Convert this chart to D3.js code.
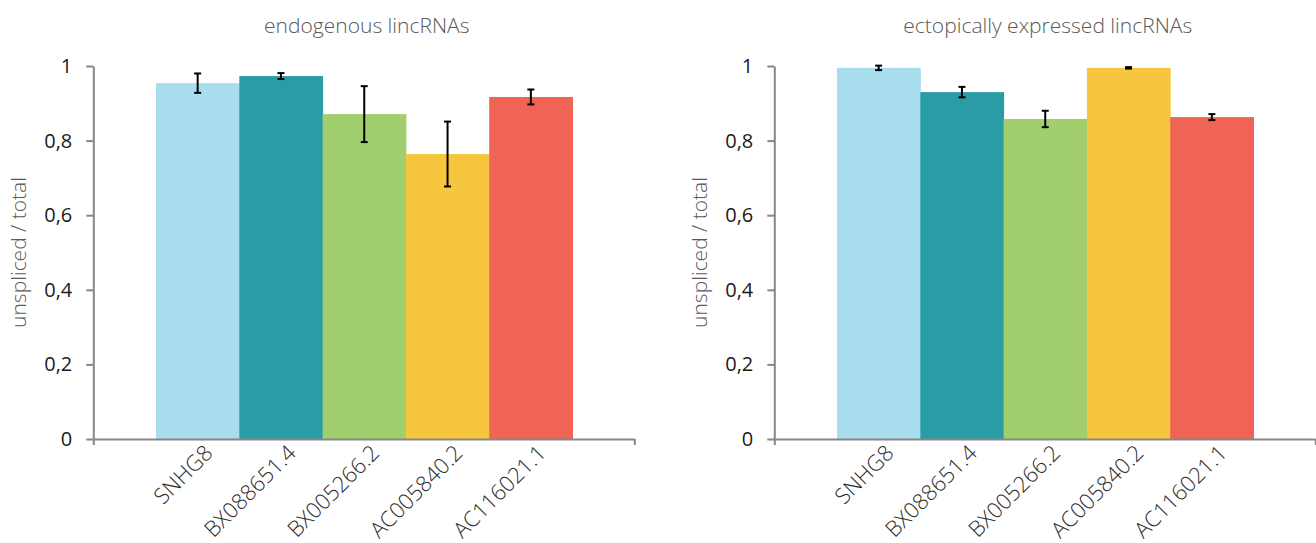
<!DOCTYPE html>
<html lang="en">
<head>
    <meta charset="UTF-8">
    <title>unspliced / total</title>
    <script src="https://d3js.org/d3.v7.js"></script>
</head>
<body style="margin: 0; background: white">
<script>
    const genes = ["SNHG8", "BX088651.4", "BX005266.2", "AC005840.2", "AC116021.1"];
    const barColors = ["#a8ddee", "#2a9ca6", "#a2cf6e", "#f5c63e", "#f06456"];
    const endoValues = [0.954, 0.973, 0.871, 0.764, 0.917];
    const endoErrors = [0.026, 0.008, 0.075, 0.087, 0.020];
    const ectoValues = [0.995, 0.930, 0.858, 0.995, 0.863];
    const ectoErrors = [0.006, 0.014, 0.022, 0.002, 0.008];
    const yTicks = [0, 0.2, 0.4, 0.6, 0.8, 1];
    const titles = ["endogenous lincRNAs", "ectopically expressed lincRNAs"];
    const yTitle = "unspliced / total";

    const width = 1316, height = 543,
        axisLen = 541, barsInset = 62.7, barsSpan = 416.5;
    const font = "'Open Sans', sans-serif";

    const svg = d3.select("body")
        .append("svg")
        .attr("width", width)
        .attr("height", height);

    const y = d3.scaleLinear().domain([0, 1]).range([439, 66]);

    function drawPanel(x0, title, values, errors) {
        const g = svg.append("g");
        const data = genes.map((name, i) => ({name: name, value: values[i], err: errors[i], color: barColors[i]}));

        const x = d3.scaleBand()
            .domain(genes)
            .range([x0 + barsInset, x0 + barsInset + barsSpan])
            .padding(0);

        // bars
        g.selectAll("rect")
            .data(data)
            .join("rect")
            .attr("x", d => x(d.name))
            .attr("width", x.bandwidth() + 0.5)
            .attr("y", d => y(d.value))
            .attr("height", d => y(0) - y(d.value))
            .attr("fill", d => d.color);

        // y axis
        const yAxis = g.append("g")
            .attr("transform", `translate(${x0},0)`)
            .call(d3.axisLeft(y)
                .tickValues(yTicks)
                .tickSize(7)
                .tickSizeOuter(0)
                .tickPadding(14)
                .tickFormat(d => String(d).replace(".", ",")));
        yAxis.select(".domain").attr("stroke", "#878787").attr("stroke-width", 2);
        yAxis.selectAll(".tick line").attr("stroke", "#878787").attr("stroke-width", 2);
        yAxis.selectAll(".tick text")
            .attr("fill", "#1a1a1a")
            .style("font-family", font)
            .style("font-size", "20px");

        // x axis, one category, ticks only at the ends
        const xLine = d3.scaleLinear().domain([0, 1]).range([x0, x0 + axisLen]);
        const xAxis = g.append("g")
            .attr("transform", `translate(0,${y(0)})`)
            .call(d3.axisBottom(xLine).tickValues([0, 1]).tickSize(6).tickSizeOuter(0).tickFormat(""));
        xAxis.select(".domain").attr("stroke", "#878787").attr("stroke-width", 2);
        xAxis.selectAll(".tick line").attr("stroke", "#878787").attr("stroke-width", 2);

        // error bars
        const eb = g.selectAll(".err")
            .data(data)
            .join("g")
            .attr("class", "err")
            .attr("stroke", "#000")
            .attr("stroke-width", 2);
        eb.append("line")
            .attr("x1", d => x(d.name) + x.bandwidth() / 2)
            .attr("x2", d => x(d.name) + x.bandwidth() / 2)
            .attr("y1", d => y(d.value + d.err))
            .attr("y2", d => y(d.value - d.err));
        eb.selectAll(".cap")
            .data(d => [[d, d.value + d.err], [d, d.value - d.err]])
            .join("line")
            .attr("class", "cap")
            .attr("x1", d => x(d[0].name) + x.bandwidth() / 2 - 3.5)
            .attr("x2", d => x(d[0].name) + x.bandwidth() / 2 + 3.5)
            .attr("y1", d => y(d[1]))
            .attr("y2", d => y(d[1]));

        // category labels
        g.selectAll(".cat")
            .data(genes)
            .join("text")
            .attr("class", "cat")
            .attr("transform", d => `translate(${x(d) + x.bandwidth() / 2 + 11},${y(0) + 10}) rotate(-45)`)
            .attr("text-anchor", "end")
            .attr("dy", "0.35em")
            .attr("fill", "#2b2b2b")
            .style("font-family", font)
            .style("font-weight", 300)
            .style("font-size", "22px")
            .text(d => d);

        // title
        g.append("text")
            .attr("x", x0 + axisLen / 2 + 3)
            .attr("y", 33)
            .attr("text-anchor", "middle")
            .attr("fill", "#595959")
            .style("font-family", font)
            .style("font-weight", 300)
            .style("font-size", "21px")
            .text(title);

        // y title
        g.append("text")
            .attr("transform", `translate(${x0 - 67},${(y(0) + y(1)) / 2}) rotate(-90)`)
            .attr("text-anchor", "middle")
            .attr("fill", "#595959")
            .style("font-family", font)
            .style("font-weight", 300)
            .style("font-size", "21px")
            .text(yTitle);
    }

    drawPanel(93.3, titles[0], endoValues, endoErrors);
    drawPanel(774.3, titles[1], ectoValues, ectoErrors);
</script>
</body>
</html>
